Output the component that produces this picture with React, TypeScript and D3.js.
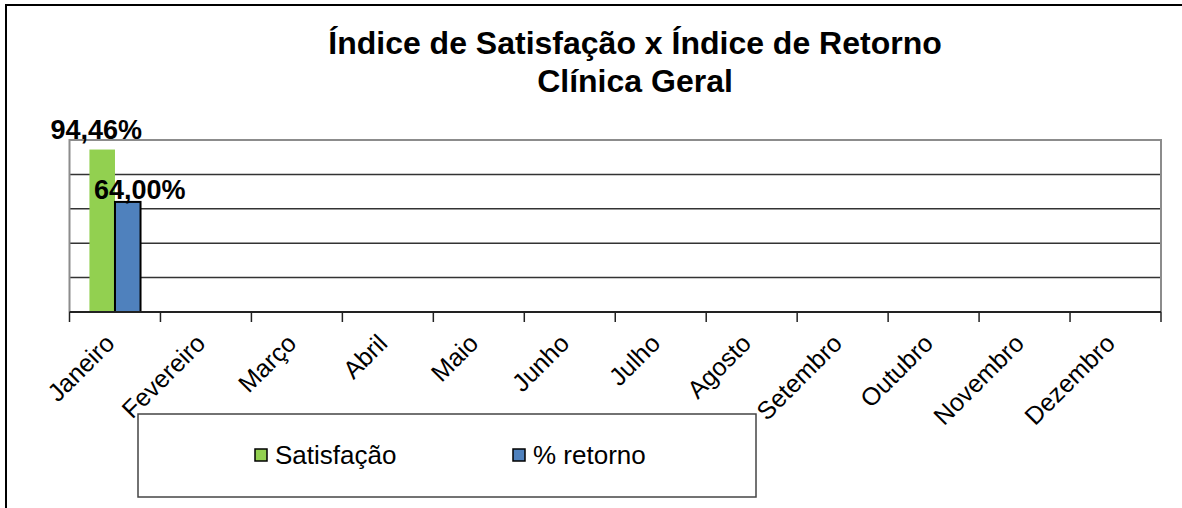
import React, { useRef, useEffect } from "react";
import * as d3 from "d3";

const months = [
  "Janeiro",
  "Fevereiro",
  "Março",
  "Abril",
  "Maio",
  "Junho",
  "Julho",
  "Agosto",
  "Setembro",
  "Outubro",
  "Novembro",
  "Dezembro",
];
const seriesNames = ["Satisfação", "% retorno"];
const satisfacao = [94.46];
const retorno = [64.0];
const yTicks = [0, 20, 40, 60, 80, 100];
const titleLines = ["Índice de Satisfação x Índice de Retorno", "Clínica Geral"];

const App = () => {
  const ref = useRef<SVGSVGElement>(null);

  useEffect(() => {
    const width = 1182;
    const height = 508;
    const font = "Arial, 'Liberation Sans', sans-serif";
    const colors = ["#92D050", "#4F81BD"];
    const values = [satisfacao, retorno];

    const svg = d3.select(ref.current).attr("width", width).attr("height", height);
    svg.selectAll("*").remove();

    // outer chart frame (right/bottom edges fall outside the picture)
    svg
      .append("rect")
      .attr("x", 6)
      .attr("y", 5)
      .attr("width", width + 10)
      .attr("height", height + 10)
      .attr("fill", "#fff")
      .attr("stroke", "#000")
      .attr("stroke-width", 2);

    const left = 69.5;
    const right = 1161;
    const top = 140;
    const bottom = 312;

    const x0 = d3.scaleBand().domain(months).range([left, right]);
    const x1 = d3
      .scaleBand()
      .domain(seriesNames)
      .range([0, x0.bandwidth()])
      .paddingOuter(0.78);
    const y = d3.scaleLinear().domain([0, 100]).range([bottom, top]);

    // title
    svg
      .append("g")
      .selectAll("text")
      .data(titleLines)
      .enter()
      .append("text")
      .attr("x", 635)
      .attr("y", (d, i) => 54 + i * 38)
      .attr("text-anchor", "middle")
      .style("font-family", font)
      .style("font-weight", "bold")
      .style("font-size", "32px")
      .text((d) => d);

    // gridlines
    svg
      .append("g")
      .selectAll("line")
      .data(yTicks.slice(1, -1))
      .enter()
      .append("line")
      .attr("x1", left)
      .attr("x2", right)
      .attr("y1", (d) => y(d))
      .attr("y2", (d) => y(d))
      .attr("stroke", "#333")
      .attr("stroke-width", 1.5);

    // plot frame
    svg
      .append("path")
      .attr("d", `M${left},${bottom}V${y(100)}H${right}V${bottom}`)
      .attr("fill", "none")
      .attr("stroke", "#8c8c8c")
      .attr("stroke-width", 2);

    // bars
    seriesNames.forEach((name, s) => {
      svg
        .append("g")
        .selectAll("rect")
        .data(values[s])
        .enter()
        .append("rect")
        .attr("x", (d, i) => x0(months[i])! + x1(name)!)
        .attr("y", (d) => y(d))
        .attr("width", x1.bandwidth())
        .attr("height", (d) => bottom - y(d))
        .attr("fill", colors[s])
        .attr("stroke", s === 1 ? "#000" : "none")
        .attr("stroke-width", 2);
    });

    // data labels
    const labelDx = [-6, 12];
    const labelDy = [-11, -3];
    seriesNames.forEach((name, s) => {
      svg
        .append("g")
        .selectAll("text")
        .data(values[s])
        .enter()
        .append("text")
        .attr("x", (d, i) => x0(months[i])! + x1(name)! + x1.bandwidth() / 2 + labelDx[s])
        .attr("y", (d) => y(d) + labelDy[s])
        .attr("text-anchor", "middle")
        .style("font-family", font)
        .style("font-weight", "bold")
        .style("font-size", "27px")
        .text((d) => d.toFixed(2).replace(".", ",") + "%");
    });

    // x axis
    const ticks = [...months.map((m) => x0(m)!), right];
    svg
      .append("line")
      .attr("x1", left)
      .attr("x2", right)
      .attr("y1", bottom)
      .attr("y2", bottom)
      .attr("stroke", "#222")
      .attr("stroke-width", 2);
    svg
      .append("g")
      .selectAll("line")
      .data(ticks)
      .enter()
      .append("line")
      .attr("x1", (d) => d)
      .attr("x2", (d) => d)
      .attr("y1", bottom)
      .attr("y2", bottom + 10)
      .attr("stroke", "#222")
      .attr("stroke-width", 1.5);

    svg
      .append("g")
      .selectAll("text")
      .data(months)
      .enter()
      .append("text")
      .attr(
        "transform",
        (d) => `translate(${x0(d)! + x0.bandwidth() / 2 + 1}, ${bottom + 33}) rotate(-45)`
      )
      .attr("text-anchor", "end")
      .style("font-family", font)
      .style("font-size", "25px")
      .text((d) => d);

    // legend
    const legend = svg.append("g");
    legend
      .append("rect")
      .attr("x", 138)
      .attr("y", 414)
      .attr("width", 618)
      .attr("height", 83)
      .attr("fill", "#fff")
      .attr("stroke", "#444")
      .attr("stroke-width", 1.5);
    const lx = d3.scaleBand().domain(seriesNames).range([255, 771]);
    const item = legend
      .selectAll("g")
      .data(seriesNames)
      .enter()
      .append("g")
      .attr("transform", (d) => `translate(${lx(d)}, 0)`);
    item
      .append("rect")
      .attr("x", 0)
      .attr("y", 449)
      .attr("width", 12)
      .attr("height", 12)
      .attr("fill", (d, i) => colors[i])
      .attr("stroke", "#000")
      .attr("stroke-width", 1.5);
    item
      .append("text")
      .attr("x", 20)
      .attr("y", 464)
      .style("font-family", font)
      .style("font-size", "26px")
      .text((d) => d);
  }, []);

  return (
    <div>
      <svg ref={ref} style={{ position: "absolute", left: 0, top: 0 }}></svg>
    </div>
  );
};

export default App;
